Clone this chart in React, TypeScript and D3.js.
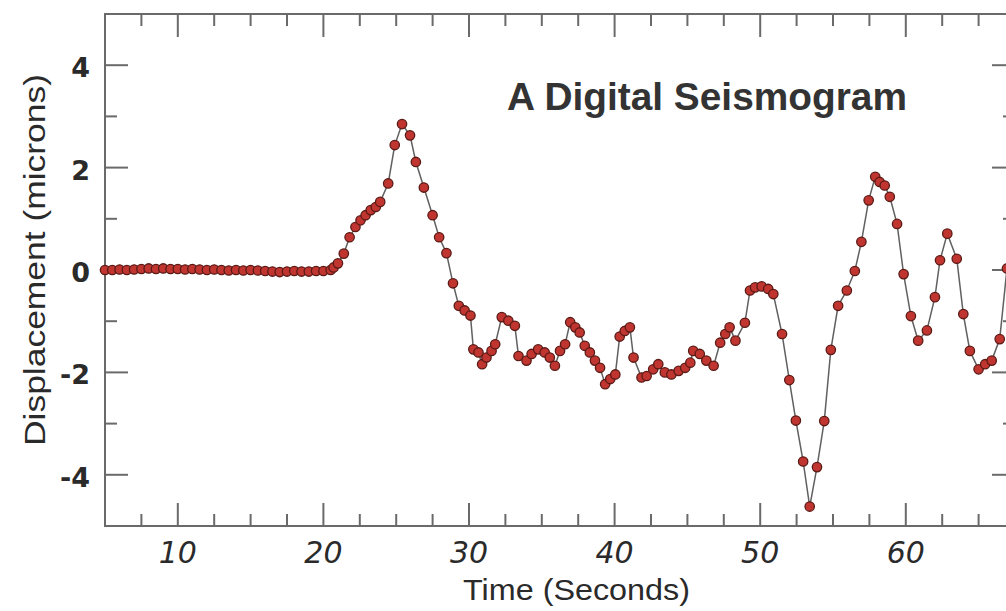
import React from "react";
import * as d3 from "d3";

// Time (seconds) and displacement (microns)
const times: number[] = [
  5.0, 5.5, 6.0, 6.5, 7.0, 7.5, 8.0, 8.5, 9.0, 9.5, 10.0, 10.5, 11.0, 11.5, 12.0, 12.5,
  13.0, 13.5, 14.0, 14.5, 15.0, 15.5, 16.0, 16.5, 17.0, 17.5, 18.0, 18.5, 19.0, 19.5, 20.0, 20.5,
  20.7, 21.0, 21.4, 21.8, 22.2, 22.55, 22.9, 23.25, 23.6, 23.9, 24.45, 24.9, 25.4, 25.95,
  26.35, 26.9, 27.5, 27.95, 28.45, 28.9, 29.3, 29.7, 30.1, 30.3, 30.65, 30.9, 31.2, 31.55,
  31.8, 32.25, 32.7, 33.15, 33.4, 33.95, 34.3, 34.75, 35.2, 35.55, 35.9, 36.25, 36.6, 36.95,
  37.3, 37.6, 37.95, 38.3, 38.65, 39.0, 39.35, 39.7, 40.05, 40.35, 40.7, 41.05, 41.3, 41.85,
  42.2, 42.65, 43.0, 43.45, 43.9, 44.4, 44.85, 45.2, 45.4, 45.85, 46.3, 46.8, 47.25, 47.6,
  47.9, 48.3, 48.95, 49.3, 49.65, 50.1, 50.55, 50.9, 51.5, 52.0, 52.45, 52.95, 53.4, 53.9,
  54.4, 54.85, 55.35, 55.95, 56.5, 56.95, 57.45, 57.9, 58.2, 58.55, 58.9, 59.4, 59.85, 60.35,
  60.85, 61.45, 62.0, 62.35, 62.85, 63.5, 63.95, 64.4, 65.0, 65.45, 65.9, 66.45, 66.95,
];
const displacement: number[] = [
  0.0, 0.0, 0.01, 0.0, 0.01, 0.02, 0.03, 0.02, 0.03, 0.02, 0.02, 0.01, 0.02, 0.01, 0.0, 0.01,
  0.0, -0.01, 0.0, -0.01, 0.0, -0.01, -0.02, -0.03, -0.04, -0.03, -0.02, -0.03, -0.03, -0.02, -0.02, 0.0,
  0.05, 0.13, 0.32, 0.64, 0.84, 0.97, 1.07, 1.17, 1.23, 1.33, 1.69, 2.44, 2.85, 2.63,
  2.11, 1.61, 1.07, 0.64, 0.33, -0.26, -0.7, -0.79, -0.89, -1.55, -1.61, -1.84, -1.71, -1.58,
  -1.45, -0.92, -0.99, -1.09, -1.68, -1.77, -1.64, -1.55, -1.61, -1.71, -1.87, -1.58, -1.45, -1.02,
  -1.12, -1.22, -1.48, -1.61, -1.77, -1.91, -2.23, -2.13, -2.04, -1.3, -1.19, -1.12, -1.71, -2.1,
  -2.07, -1.94, -1.84, -2.0, -2.04, -1.97, -1.91, -1.81, -1.58, -1.64, -1.77, -1.87, -1.42, -1.25,
  -1.12, -1.38, -1.03, -0.4, -0.34, -0.32, -0.37, -0.47, -1.25, -2.15, -2.94, -3.74, -4.62, -3.85,
  -2.95, -1.56, -0.7, -0.4, -0.02, 0.55, 1.36, 1.82, 1.72, 1.65, 1.43, 0.9, -0.08, -0.9,
  -1.38, -1.18, -0.53, 0.19, 0.71, 0.22, -0.86, -1.58, -1.94, -1.84, -1.77, -1.35, 0.03,
];

const xMajorTicks: number[] = [10, 20, 30, 40, 50, 60];
const xMinorTicks: number[] = [7.5, 12.5, 15, 17.5, 22.5, 25, 27.5, 32.5, 35, 37.5, 42.5, 45, 47.5, 52.5, 55, 57.5, 62.5, 65];
const yMajorTicks: number[] = [-4, -2, 0, 2, 4];
const yMinorTicks: number[] = [-3, -1, 1, 3];

const title = "A Digital Seismogram";
const xTitle = "Time (Seconds)";
const yTitle = "Displacement (microns)";

export default function App() {
  const W = 1006, H = 611;
  const left = 105, right = 1015, top = 14, bottom = 526;
  const x = d3.scaleLinear().domain([5, 67.5]).range([left, right]);
  const y = d3.scaleLinear().domain([-5, 5]).range([bottom, top]);
  const pts = times.map((t, i) => [t, displacement[i]] as [number, number]);
  const line = d3.line<[number, number]>().x((d) => x(d[0])).y((d) => y(d[1]));
  const axisColor = "#6a6a6a";
  const major = 23, minor = 12;

  return (
    <svg width={W} height={H} style={{ position: "absolute", left: 0, top: 0, background: "#fff" }}>
      <rect x={left} y={top} width={right - left} height={bottom - top} fill="none" stroke={axisColor} strokeWidth={2} />
      {xMajorTicks.map((t) => (
        <g key={"xM" + t}>
          <line x1={x(t)} x2={x(t)} y1={bottom} y2={bottom - major} stroke={axisColor} strokeWidth={2} />
          <line x1={x(t)} x2={x(t)} y1={top} y2={top + major} stroke={axisColor} strokeWidth={2} />
        </g>
      ))}
      {xMinorTicks.map((t) => (
        <g key={"xm" + t}>
          <line x1={x(t)} x2={x(t)} y1={bottom} y2={bottom - minor} stroke={axisColor} strokeWidth={2} />
          <line x1={x(t)} x2={x(t)} y1={top} y2={top + minor} stroke={axisColor} strokeWidth={2} />
        </g>
      ))}
      {yMajorTicks.map((v) => (
        <g key={"yM" + v}>
          <line x1={left} x2={left + major} y1={y(v)} y2={y(v)} stroke={axisColor} strokeWidth={2} />
          <line x1={right} x2={right - major} y1={y(v)} y2={y(v)} stroke={axisColor} strokeWidth={2} />
        </g>
      ))}
      {yMinorTicks.map((v) => (
        <g key={"ym" + v}>
          <line x1={left} x2={left + minor} y1={y(v)} y2={y(v)} stroke={axisColor} strokeWidth={2} />
          <line x1={right} x2={right - minor} y1={y(v)} y2={y(v)} stroke={axisColor} strokeWidth={2} />
        </g>
      ))}
      {xMajorTicks.map((t) => (
        <text key={"xl" + t} x={x(t)} y={563} textAnchor="middle" fontFamily="DejaVu Sans" fontStyle="italic" fontSize={30} fill="#2a2a2a">
          {t}
        </text>
      ))}
      {yMajorTicks.map((v) => (
        <text key={"yl" + v} x={90} y={y(v) + 12} textAnchor="end" fontFamily="DejaVu Sans" fontWeight="bold" fontSize={27} fill="#2a2a2a">
          {v}
        </text>
      ))}
      <path d={line(pts) || ""} fill="none" stroke="#606060" strokeWidth={1.5} />
      {pts.map((d, i) => (
        <circle key={i} cx={x(d[0])} cy={y(d[1])} r={4.7} fill="#c0352f" stroke="#5a1a16" strokeWidth={1.3} />
      ))}
      <text x={507} y={110} fontFamily="Liberation Sans" fontWeight="bold" fontSize={39} fill="#333" textLength={400} lengthAdjust="spacingAndGlyphs">
        {title}
      </text>
      <text x={463} y={600} fontFamily="Liberation Sans" fontSize={30} fill="#2a2a2a" textLength={227} lengthAdjust="spacingAndGlyphs">
        {xTitle}
      </text>
      <text transform={`translate(45, ${260}) rotate(-90)`} x={0} y={0} textAnchor="middle" fontFamily="Liberation Sans" fontSize={30} fill="#2a2a2a" textLength={372} lengthAdjust="spacingAndGlyphs">
        {yTitle}
      </text>
    </svg>
  );
}
